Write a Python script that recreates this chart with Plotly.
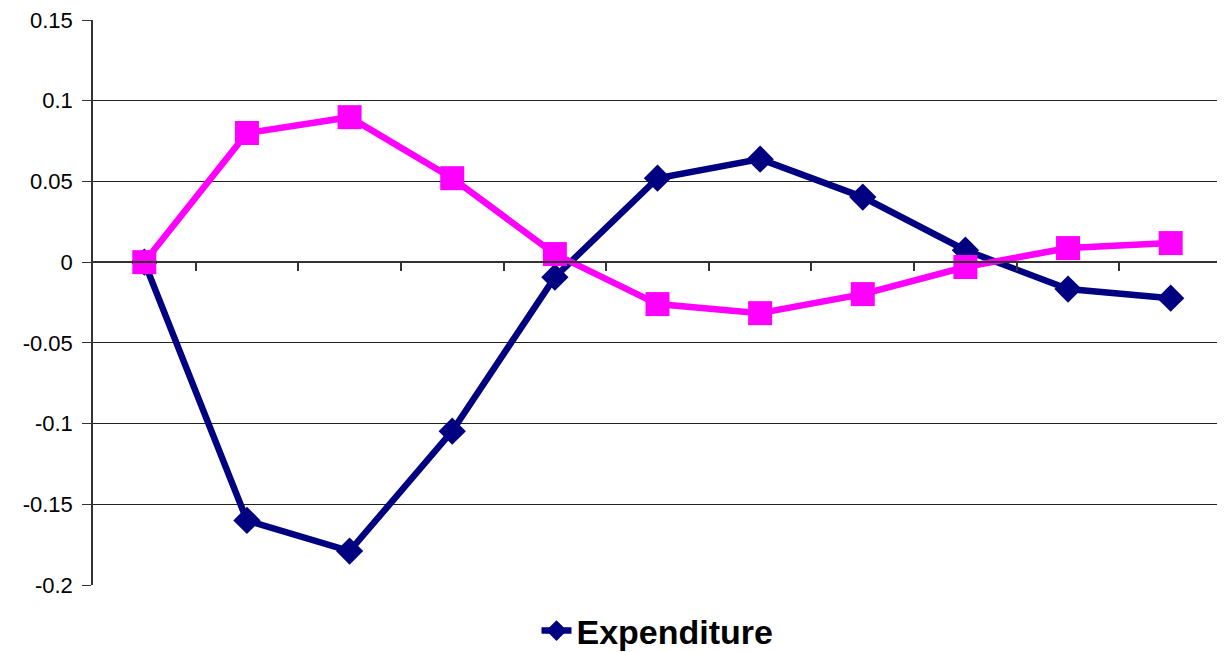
import plotly.graph_objects as go

# 11 periods, no labels shown on the category axis
periods = list(range(11))
expenditure = [0.0, -0.160, -0.179, -0.1047, -0.0093, 0.052, 0.0638, 0.0403, 0.0074, -0.0167, -0.0223]
other_series = [0.0, 0.080, 0.0898, 0.052, 0.005, -0.026, -0.0316, -0.0198, -0.003, 0.0087, 0.0118]
y_ticks = [0.15, 0.1, 0.05, 0, -0.05, -0.1, -0.15, -0.2]
y_tick_text = ["0.15", "0.1", "0.05", "0", "-0.05", "-0.1", "-0.15", "-0.2"]

y_min, y_max = -0.2, 0.15
ARIAL = "Arial, Liberation Sans, sans-serif"

fig = go.Figure()

fig.add_trace(go.Scatter(
    x=periods, y=expenditure, name="<b>Expenditure</b>", mode="lines+markers",
    line=dict(color="#000080", width=6.5),
    marker=dict(symbol="diamond", size=21, color="#000080"),
))
fig.add_trace(go.Scatter(
    x=periods, y=other_series, name="", mode="lines+markers", showlegend=False,
    line=dict(color="#FF00FF", width=6.5),
    marker=dict(symbol="square", size=24, color="#FF00FF"),
))

# category axis drawn along y = 0, ticks at category boundaries
zero_pos = (0 - y_min) / (y_max - y_min)

fig.update_layout(
    width=1225, height=652,
    margin=dict(l=85, r=11, t=12, b=75, autoexpand=False),
    plot_bgcolor="white", paper_bgcolor="white",
    font=dict(family=ARIAL, size=22, color="black"),
    showlegend=True,
    legend=dict(orientation="h", x=0.5, xanchor="center", y=-0.03, yanchor="top",
                font=dict(size=34, family=ARIAL, color="black")),
    xaxis=dict(range=[-0.5, 10.5], showgrid=False, zeroline=False, automargin=False,
               anchor="free", position=zero_pos,
               showline=True, linecolor="#333333", linewidth=1.5,
               ticks="outside", ticklen=8, tickcolor="#333333", tickwidth=1.5,
               tickvals=[i + 0.5 for i in periods], showticklabels=False),
    yaxis=dict(range=[y_min, y_max], tickvals=y_ticks, ticktext=y_tick_text,
               tickfont=dict(size=22, family=ARIAL, color="black"), automargin=False,
               ticklabeloverflow="allow", ticklabelstandoff=5,
               showgrid=True, gridcolor="#222222", gridwidth=1, zeroline=False,
               showline=True, linecolor="#333333", linewidth=1.5,
               ticks="outside", ticklen=9, tickcolor="#333333"),
)

fig.write_html("out.html")
